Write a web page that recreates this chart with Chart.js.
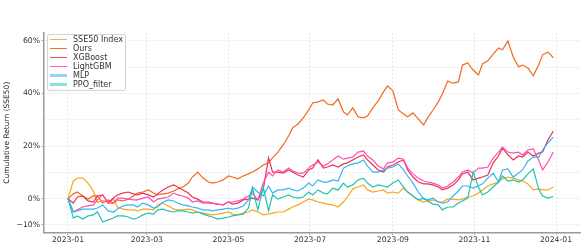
<!DOCTYPE html>
<html>
<head>
<meta charset="utf-8">
<script src="https://cdn.jsdelivr.net/npm/chart.js@4.4.1/dist/chart.umd.min.js"></script>
<style>
  html, body { margin: 0; padding: 0; background: #fff; }
  #wrap { position: relative; width: 581px; height: 245px; }
  #legend {
    position: absolute; left: 47px; top: 33.5px;
    width: 77px; padding: 0.5px 0;
    background: rgba(255,255,255,0.8);
    border: 1px solid #d4d4d4; border-radius: 2px;
    font: 8px "DejaVu Sans", sans-serif; color: #333;
  }
  #legend .row { height: 9px; line-height: 9px; display: flex; align-items: center; white-space: nowrap; }
  #legend .sw { width: 17px; margin: 0 6px 0 2px; }
</style>
</head>
<body>
<div id="wrap">
  <canvas id="chart" width="581" height="245"></canvas>
  <div id="legend"></div>
</div>
<script>
// --- Datos (días desde 2023-01-01, rendimiento acumulado en %) ---
const days = [0,4,7,11,15,19,22,26,30,34,37,41,45,49,52,56,60,64,67,71,75,79,82,86,90,93,97,101,105,108,112,116,120,123,127,131,135,138,142,146,150,153,157,161,165,168,172,176,180,183,187,191,194,198,202,206,209,213,217,221,224,228,232,236,239,243,247,251,254,258,262,266,269,273,277,280,284,288,292,295,299,303,307,310,314,318,322,325,329,333,337,340,344,348,352,355,359,363];

const sse50 = [0,6.7,7.8,7.8,5.9,2.9,-1.5,-0.8,-1.3,-0.2, -3.2,-4.0,-4.3,-4.3,-4.7,-4.0,-4.0,-4.3,-2.4,-1.7, -2.8,-4.0,-4.3,-4.3,-4.0,-4.3,-5.1,-5.5,-5.9,-6.2, -5.9,-5.5,-5.1,-5.9,-6.2,-5.5,-5.1,-4.3,-5.1,-6.2, -5.9,-5.5,-5.1,-5.1,-4.0,-3.2,-2.4,-1.3,-0.2,-0.5, -1.3,-1.7,-2.1,-2.4,-3.2,-1.3,0.6,3.7,4.4,5.2, 3.3,2.5,2.9,3.3,2.1,2.5,2.1,4.0,2.5,1.0, -0.5,-1.3,-0.9,-0.5,-1.3,-1.3,-0.2,-0.2,-0.5,-0.2, 0.6,1.0,2.1,3.3,4.8,5.6,6.3,7.5,8.2,7.8, 7.1,6.7,5.6,3.3,3.7,3.3,3.3,4.4];

const ours = [0,1.8,2.5,1.0,-0.2,1.0,1.0,-1.7,-0.5,-1.7, -0.5,-0.9,-0.2,1.0,2.1,2.5,3.3,2.1,1.4,1.8, 2.1,2.9,3.7,4.4,5.9,8.2,10.1,7.8,6.3,5.9, 6.3,7.1,8.6,8.2,7.5,8.6,9.4,10.1,11.3,12.8, 13.6,15.5,17.7,20.4,23.8,26.9,28.4,30.7,33.7,36.4, 36.8,37.5,36.0,35.6,37.9,33.0,31.8,34.5,31.1,30.7, 31.4,34.5,37.2,40.6,42.9,41.0,33.7,32.2,31.1,32.6, 30.3,28.0,30.7,33.7,36.8,39.8,44.7,43.9,44.4,50.8, 51.6,48.9,47.0,51.2,52.4,55.0,57.3,56.6,60.0,53.9, 50.1,50.8,49.7,46.7,50.8,54.7,55.8,53.5];

const xgboost = [0,-1.7,0.6,1.0,-0.9,-1.3,1.0,1.4,-1.7,0.2, 1.4,2.1,2.5,1.8,1.4,2.1,1.4,0.6,1.8,3.3, 4.4,5.2,4.4,3.3,2.1,0.6,-0.2,-1.3,-1.3,-1.7, -2.1,-2.4,-1.3,-2.1,-1.7,-0.5,-0.2,0.2,-0.5,3.3, 15.5,10.1,10.1,9.7,10.9,10.1,9.0,8.2,10.9,11.6, 14.7,11.6,12.0,12.8,12.0,13.2,13.6,14.7,15.8,16.6, 14.7,12.8,10.9,10.1,12.0,12.8,13.9,14.7,10.9,8.2, 6.3,5.6,5.6,5.2,4.4,3.3,4.0,5.2,7.1,9.4, 10.1,7.1,7.8,8.2,9.0,13.6,16.2,19.3,16.6,14.7, 16.2,15.8,17.7,16.2,17.3,17.7,22.3,25.7];

const lightgbm = [0,-5.1,-4.3,-3.2,-2.8,-2.4,-0.5,1.4,-1.7,-1.7, 0.2,0.2,-0.2,-0.5,-0.5,0.2,0.6,-1.3,-0.2,0.2, 0.6,2.1,1.4,1.0,0.2,-1.3,-0.9,-1.7,-1.7,-1.7, -2.1,-2.4,-1.3,-1.3,-0.9,-0.2,1.0,2.1,-0.5,5.9, 10.1,8.6,10.9,10.1,11.6,10.5,9.7,9.7,11.6,12.8, 13.9,12.4,13.2,14.7,16.2,15.0,15.4,15.8,17.7,18.1, 16.2,14.7,12.4,11.3,13.6,13.9,15.4,15.0,11.6,9.4, 7.8,6.7,6.3,5.9,5.2,4.0,4.8,6.3,8.2,10.1, 10.9,9.7,11.6,11.6,12.0,15.4,17.7,19.6,17.7,17.3, 17.7,16.6,18.5,18.9,14.7,10.9,13.9,17.7];

const mlp = [0,-5.1,-4.7,-4.0,-4.0,-4.0,-3.6,-2.4,-4.7,-5.1, -4.0,-2.8,-2.4,-2.4,-3.2,-1.7,-2.4,-3.6,-3.2,-1.3, -0.5,-0.9,-1.7,-2.4,-2.8,-3.2,-3.6,-4.3,-4.3,-4.7, -4.3,-4.0,-3.6,-4.0,-3.6,-2.8,-0.5,4.4,2.5,1.0, 4.8,2.1,3.3,3.3,4.0,3.3,2.9,4.0,5.9,4.8, 7.1,6.3,6.3,7.1,6.7,11.6,12.4,13.2,13.6,14.7, 12.4,10.1,10.1,10.9,11.6,12.0,13.2,10.9,8.6,5.9, 2.5,-0.2,-0.5,0.2,-1.3,-1.7,-1.3,1.0,2.9,4.8, 4.8,4.0,4.8,5.6,7.8,9.7,6.3,10.9,11.3,8.2, 9.7,10.9,14.3,15.8,15.8,18.5,21.2,23.4];

const ppoFilter = [0,-7.4,-6.6,-7.8,-6.6,-6.2,-5.1,-8.9,-8.1,-7.4, -6.6,-6.6,-7.0,-7.8,-7.4,-6.2,-5.5,-5.9,-4.3,-4.0, -4.7,-5.1,-4.7,-4.7,-5.1,-5.5,-5.1,-5.9,-6.6,-7.0, -7.8,-7.4,-7.0,-6.6,-6.2,-5.9,-3.6,4.0,-4.3,4.4, -4.7,1.4,-0.2,0.6,1.4,0.6,0.2,0.6,2.5,1.4, 3.3,2.1,1.8,4.0,3.3,5.9,4.4,5.2,7.1,7.8, 5.9,4.4,5.2,4.8,4.4,5.9,7.1,4.4,2.5,1.0, -0.5,0.2,-0.9,-2.1,-2.4,-4.3,-3.2,-3.2,-1.7,-0.9, 0.2,10.1,4.4,1.4,2.5,4.4,6.3,8.6,6.7,7.1, 6.3,7.1,9.4,11.3,3.7,1.0,0.2,0.8];

const seriesNames = ['SSE50 Index', 'Ours', 'XGBoost', 'LightGBM', 'MLP', 'PPO_filter'];
const seriesValues = [sse50, ours, xgboost, lightgbm, mlp, ppoFilter];
const seriesColors = ['#f9a61c', '#f26a1e', '#ec3250', '#ff4db5', '#33b6f2', '#1fc3b3'];
const legendColors = ['#f6b448', '#f07035', '#e44d64', '#f466c6', '#8fd5f6', '#8fe0d8'];
const legendWidths = [1.3, 1.3, 1.3, 1.3, 3, 3];

const xTickDays = [0, 59, 120, 181, 243, 304, 365];
const xTickLabels = ['2023-01', '2023-03', '2023-05', '2023-07', '2023-09', '2023-11', '2024-01'];
const yGridValues = [-10, 0, 10, 20, 30, 40, 50, 60];
const yLabelValues = [-10, 0, 20, 40, 60];

// --- Construcción del gráfico ---
const datasets = seriesNames.map((name, i) => ({
    label: name,
    data: days.map((d, j) => ({ x: d, y: seriesValues[i][j] })),
    borderColor: seriesColors[i],
    borderWidth: 1.2,
    pointRadius: 0,
    tension: 0,
    fill: false,
    order: seriesNames.length - i // el último se dibuja encima
}));

const tickFont = { family: 'DejaVu Sans', size: 7.7 };

new Chart(document.getElementById('chart'), {
    type: 'line',
    data: { datasets },
    options: {
        responsive: false,
        animation: false,
        layout: { padding: { top: 33, right: 1, left: 0, bottom: 0 } },
        plugins: { legend: { display: false }, tooltip: { enabled: false } },
        scales: {
            x: {
                type: 'linear',
                min: -17.95,
                max: 382.95,
                afterBuildTicks: s => { s.ticks = xTickDays.map(v => ({ value: v })); },
                afterFit: s => { s.height = 12.5; },
                ticks: {
                    callback: v => xTickLabels[xTickDays.indexOf(v)],
                    font: tickFont, color: '#333', padding: 0,
                    maxRotation: 0, autoSkip: false
                },
                grid: { color: '#e0e0e0', lineWidth: 0.8, tickLength: 2.5, tickColor: '#999' },
                border: { display: true, color: '#9a9a9a', width: 1.5, dash: [2, 2] }
            },
            y: {
                min: -12.9,
                max: 63,
                afterBuildTicks: s => { s.ticks = yGridValues.map(v => ({ value: v })); },
                afterFit: s => { s.width = 44; },
                ticks: {
                    callback: v => yLabelValues.includes(v) ? (v < 0 ? '\u2212' + Math.abs(v) : v) + '%' : '',
                    font: tickFont, color: '#333', padding: 1.5
                },
                grid: {
                    color: '#e0e0e0', lineWidth: 0.8, tickLength: 2.5,
                    tickColor: c => yLabelValues.includes(c.tick && c.tick.value) ? '#999' : 'rgba(0,0,0,0)'
                },
                border: { display: true, color: '#9a9a9a', width: 1.5, dash: [2, 2] },
                title: {
                    display: true, text: 'Cumulative Return (SSE50)',
                    font: { family: 'DejaVu Sans', size: 7.5 }, color: '#222',
                    padding: { top: 2.5, bottom: 0 }
                }
            }
        }
    }
});

// --- Leyenda HTML dentro del área del gráfico ---
const legend = document.getElementById('legend');
seriesNames.forEach((name, i) => {
    const row = document.createElement('div');
    row.className = 'row';
    const sw = document.createElement('span');
    sw.className = 'sw';
    sw.style.borderTop = legendWidths[i] + 'px solid ' + legendColors[i];
    const txt = document.createElement('span');
    txt.textContent = name;
    row.appendChild(sw);
    row.appendChild(txt);
    legend.appendChild(row);
});
</script>
</body>
</html>
